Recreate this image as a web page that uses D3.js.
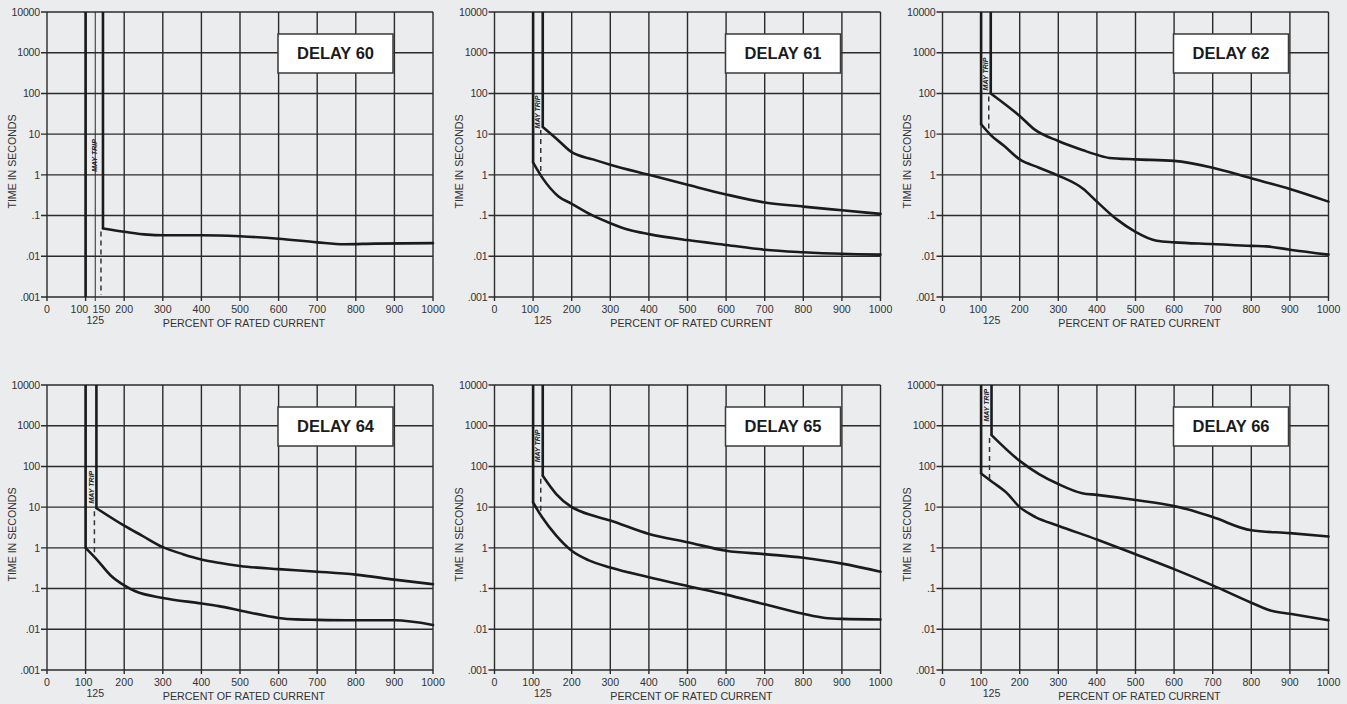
<!DOCTYPE html>
<html><head><meta charset="utf-8">
<script src="https://cdn.jsdelivr.net/npm/d3@7"></script>
<style>
html,body{margin:0;padding:0;background:#ebecee;}
svg{display:block;}
text{font-family:"Liberation Sans",Arial,Helvetica,sans-serif;}
</style></head><body>
<svg id="chart" width="1347" height="704"></svg>
<script>
// ---------- data ----------
const panelTitles = ["DELAY 60","DELAY 61","DELAY 62","DELAY 64","DELAY 65","DELAY 66"];
const xTicks = [0,100,200,300,400,500,600,700,800,900,1000];
const xTickLabels = ["0","100","200","300","400","500","600","700","800","900","1000"];
// where each tick label is centred (the "100" label sits a little left of its line)
const xLabelValues = [
  [0,84,200,300,400,500,600,700,800,900,1000],
  [0,92,200,300,400,500,600,700,800,900,1000],
  [0,92,200,300,400,500,600,700,800,900,1000],
  [0,95,200,300,400,500,600,700,800,900,1000],
  [0,95,200,300,400,500,600,700,800,900,1000],
  [0,94,200,300,400,500,600,700,800,900,1000]
];
const yTicks = [10000,1000,100,10,1,0.1,0.01,0.001];
const yTickLabels = ["10000","1000","100","10","1",".1",".01",".001"];
const secondRowLabel = "125";
const secondRowValue = [125,125,127,125,125,127];
const extraGridX = [[125],[],[],[],[],[]];
const extraLabelValue = [[141],[],[],[],[],[]];
const extraLabelText = [["150"],[],[],[],[],[]];
const mayTripY = [3, 35, 300, 31, 320, 3200];

const delay60Lower = [[100,10000],[100,0.001]];
const delay60Upper = [[145,10000],[145,0.048],[200,0.040],[260,0.034],[300,0.033],[400,0.033],[500,0.031],[600,0.027],[700,0.022],[770,0.0198],[850,0.0205],[1000,0.021]];
const delay61Lower = [[100,10000],[100,2.0],[125,0.82],[165,0.30],[200,0.195],[250,0.105],[300,0.065],[350,0.044],[400,0.035],[500,0.025],[600,0.019],[700,0.0145],[800,0.0126],[900,0.0115],[1000,0.011]];
const delay61Upper = [[125,10000],[125,15],[162,7.5],[200,3.6],[255,2.4],[300,1.78],[400,1.0],[500,0.57],[600,0.33],[700,0.21],[800,0.166],[900,0.135],[1000,0.11]];
const delay62Lower = [[100,10000],[100,17.5],[125,9.5],[160,5.1],[200,2.4],[250,1.5],[300,0.96],[365,0.45],[400,0.22],[450,0.083],[500,0.04],[555,0.024],[600,0.022],[700,0.02],[800,0.018],[840,0.0175],[900,0.0145],[1000,0.011]];
const delay62Upper = [[125,10000],[125,100],[200,28],[240,12.7],[300,6.8],[365,4.0],[400,3.1],[432,2.6],[500,2.4],[600,2.2],[700,1.5],[800,0.82],[900,0.45],[1000,0.22]];
const delay64Lower = [[100,10000],[100,1.0],[128,0.53],[165,0.21],[200,0.12],[229,0.086],[300,0.059],[400,0.043],[445,0.037],[500,0.029],[600,0.019],[645,0.0175],[700,0.017],[800,0.0166],[900,0.0166],[1000,0.0128]];
const delay64Upper = [[128,10000],[128,9.4],[200,3.5],[246,2.0],[300,1.04],[352,0.7],[400,0.52],[445,0.43],[500,0.36],[600,0.3],[700,0.26],[800,0.22],[900,0.166],[1000,0.128]];
const delay65Lower = [[100,10000],[100,13],[123,5.7],[160,2.0],[200,0.85],[243,0.5],[300,0.33],[400,0.19],[500,0.115],[600,0.071],[700,0.041],[800,0.024],[857,0.019],[900,0.018],[1000,0.0174]];
const delay65Upper = [[125,10000],[125,59],[160,21],[200,10],[224,7.8],[300,4.7],[400,2.2],[500,1.38],[600,0.85],[700,0.7],[800,0.57],[850,0.49],[900,0.41],[1000,0.26]];
const delay66Lower = [[100,10000],[100,67],[130,41],[165,23],[200,10],[241,5.7],[300,3.5],[400,1.6],[500,0.7],[600,0.30],[700,0.12],[800,0.045],[855,0.028],[900,0.024],[1000,0.0167]];
const delay66Upper = [[127,10000],[127,590],[200,137],[250,65],[300,37],[362,22],[400,20],[500,15],[600,10.6],[632,9],[700,5.7],[800,2.7],[900,2.3],[1000,1.9]];

const lowerCurves = [delay60Lower,delay61Lower,delay62Lower,delay64Lower,delay65Lower,delay66Lower];
const upperCurves = [delay60Upper,delay61Upper,delay62Upper,delay64Upper,delay65Upper,delay66Upper];

// ---------- layout ----------
const colLefts = [47, 494.5, 942.5];
const rowTops = [12, 385];
const plotW = 386, plotH = 285;
const ink = "#1b1b1b", gridInk = "#2b2b2b", labelInk = "#333";
const fs = "10.6px";

const svg = d3.select("#chart");

function logInterp(curve, x){
  const tail = curve.slice(1);
  for (let i=0;i<tail.length-1;i++){
    const a=tail[i], b=tail[i+1];
    if (b[0]===a[0]) continue;
    if (x>=a[0] && x<=b[0]){
      const t=(x-a[0])/(b[0]-a[0]);
      return Math.pow(10, Math.log10(a[1])+t*(Math.log10(b[1])-Math.log10(a[1])));
    }
  }
  return 0.001;
}

panelTitles.forEach((title, k) => {
  const left = colLefts[k%3], top = rowTops[Math.floor(k/3)];
  const x = d3.scaleLinear().domain([0,1000]).range([left, left+plotW]);
  const y = d3.scaleLog().domain([0.001,10000]).range([top+plotH, top]);
  const g = svg.append("g");

  // grid
  g.selectAll(null).data(xTicks).enter().append("line")
    .attr("x1", d=>x(d)).attr("x2", d=>x(d))
    .attr("y1", top).attr("y2", top+plotH+4)
    .attr("stroke", gridInk).attr("stroke-width", 1.4);
  g.selectAll(null).data(extraGridX[k]).enter().append("line")
    .attr("x1", d=>x(d)).attr("x2", d=>x(d))
    .attr("y1", top).attr("y2", top+plotH+4)
    .attr("stroke", gridInk).attr("stroke-width", 1);
  g.selectAll(null).data(yTicks).enter().append("line")
    .attr("x1", left-6).attr("x2", left+plotW)
    .attr("y1", d=>y(d)).attr("y2", d=>y(d))
    .attr("stroke", gridInk).attr("stroke-width", 1.4);

  // y tick labels
  g.selectAll(null).data(yTicks).enter().append("text")
    .attr("x", left-7).attr("y", d=>y(d)).attr("dy","0.35em")
    .attr("text-anchor","end").attr("font-size",fs).attr("fill",labelInk)
    .attr("letter-spacing","-0.2px")
    .text((d,i)=>yTickLabels[i]);
  // x tick labels
  g.selectAll(null).data(xLabelValues[k]).enter().append("text")
    .attr("x", d=>x(d)).attr("y", top+plotH+15.5)
    .attr("text-anchor","middle").attr("font-size",fs).attr("fill",labelInk)
    .text((d,i)=>xTickLabels[i]);
  g.selectAll(null).data(extraLabelValue[k]).enter().append("text")
    .attr("x", d=>x(d)).attr("y", top+plotH+15.5)
    .attr("text-anchor","middle").attr("font-size",fs).attr("fill",labelInk)
    .text((d,i)=>extraLabelText[k][i]);
  g.append("text").attr("x", x(secondRowValue[k])).attr("y", top+plotH+26.5)
    .attr("text-anchor","middle").attr("font-size",fs).attr("fill",labelInk)
    .text(secondRowLabel);

  // axis titles
  g.append("text").attr("x", left+197).attr("y", top+plotH+29.5)
    .attr("text-anchor","middle").attr("font-size","10.7px").attr("fill",labelInk)
    .text("PERCENT OF RATED CURRENT");
  g.append("text")
    .attr("transform", `translate(${left-31.5},${top+plotH/2+7}) rotate(-90)`)
    .attr("text-anchor","middle").attr("font-size","10.6px").attr("fill",labelInk)
    .text("TIME IN SECONDS");

  // title box
  g.append("rect").attr("x", left+231).attr("y", top+22).attr("width",115).attr("height",39)
    .attr("fill","#fff").attr("stroke","#3a3a3a").attr("stroke-width",1.5);
  g.append("text").attr("x", left+288.5).attr("y", top+41.5).attr("dy","0.36em")
    .attr("text-anchor","middle").attr("font-size","16.5px").attr("font-weight","bold")
    .attr("fill",ink).text(title);

  // curves
  const lineLin = d3.line().x(d=>x(d[0])).y(d=>y(d[1]));
  const lineCurve = d3.line().x(d=>x(d[0])).y(d=>y(d[1])).curve(d3.curveMonotoneX);
  [lowerCurves[k], upperCurves[k]].forEach(c => {
    g.append("path").attr("d", lineLin(c.slice(0,2)))
      .attr("fill","none").attr("stroke",ink).attr("stroke-width",2.6);
    if (c.length>2){
      g.append("path").attr("d", lineCurve(c.slice(1)))
        .attr("fill","none").attr("stroke",ink).attr("stroke-width",2.6)
        .attr("stroke-linejoin","round").attr("stroke-linecap","round");
    }
  });

  // dashed line from upper bend down to lower curve
  const up = upperCurves[k];
  const bx = up[1][0], by = up[1][1];
  const endY = logInterp(lowerCurves[k], bx);
  g.append("line").attr("x1", x(bx)-2).attr("x2", x(bx)-2)
    .attr("y1", y(by)+3).attr("y2", y(endY)-2)
    .attr("stroke","#333").attr("stroke-width",1.5).attr("stroke-dasharray","5,4");

  // MAY TRIP label
  const lx = (lowerCurves[k][0][0] + bx)/2;
  g.append("text")
    .attr("transform", `translate(${x(lx)+2.5},${y(mayTripY[k])}) rotate(-90)`)
    .attr("text-anchor","middle").attr("font-size","7px").attr("font-weight","bold")
    .attr("font-style","italic").attr("fill","#222").text("MAY TRIP");
});
</script>
</body></html>
